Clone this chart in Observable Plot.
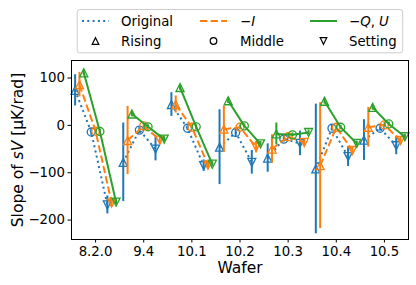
<!DOCTYPE html>
<html><head><meta charset="utf-8">
<script src="https://cdn.jsdelivr.net/npm/d3@7"></script>
<script src="https://cdn.jsdelivr.net/npm/@observablehq/plot@0.6"></script>
<style>
body{margin:0;background:#fff;font-family:"DejaVu Sans",sans-serif;}
svg{display:block}
</style></head><body>
<div id="legend"></div>
<div id="chart"></div>
<script>
// ---- data ----
const wafers = ["8.2.0", "9.4", "10.1", "10.2", "10.3", "10.4", "10.5"];
const seriesNames = ["Original", "−I", "−Q,U"];
const positionNames = ["Rising", "Middle", "Setting"];
const yTicks = [-200, -100, 0, 100];
// values per wafer: [Rising, Middle, Setting]
const originalValues = [[74,-14,-168],[-78,-10,-50],[44,-6,-85],[-46,-15,-78],[-69,-29,-38],[-92,-6,-66],[-31,-6,-43]];
const originalErrors = [[33,7,19],[83,7,25],[25,5,12],[79,10,25],[30,6,26],[137,6,21],[43,6,19]];
const minusIValues = [[86,-12,-164],[-32,-1,-31],[44,-4,-84],[-8,-4,-46],[-50,-24,-36],[-85,-4,-53],[-4,1,-32]];
const minusIErrors = [[26,5,8],[72,5,10],[18,5,6],[49,5,12],[30,5,8],[133,5,8],[42,5,8]];
const minusQUValues = [[111,-13,-162],[24,-3,-29],[80,-3,-82],[52,-1,-39],[-18,-20,-15],[51,-4,-38],[38,3,-24]];
const minusQUErrors = [[6,4,5],[6,4,5],[6,4,5],[6,4,5],[23,4,5],[6,4,5],[6,4,5]];

// ---- styles ----
const colors = ["#1f77b4", "#ff7f0e", "#2ca02c"];
const dashes = ["2,3.3", "7.4,3.2", null];
const posStep = 0.335, seriesStep = 0.09;

const triUp = {draw(c, size){const r=Math.sqrt(size/Math.PI); c.moveTo(0,-r); c.lineTo(r,r); c.lineTo(-r,r); c.closePath();}};
const triDown = {draw(c, size){const r=Math.sqrt(size/Math.PI); c.moveTo(0,r); c.lineTo(r,-r); c.lineTo(-r,-r); c.closePath();}};
const symbols = [triUp, "circle", triDown];

const allValues = [originalValues, minusIValues, minusQUValues];
const allErrors = [originalErrors, minusIErrors, minusQUErrors];
const rows = [];
allValues.forEach((vals, s) => vals.forEach((triple, w) => triple.forEach((v, p) => {
  rows.push({series: s, wafer: w, pos: p, x: w + (p - 1) * posStep + (s - 1) * seriesStep,
             v, lo: v - allErrors[s][w][p], hi: v + allErrors[s][w][p]});
})));

const marks = [
  Plot.axisY(yTicks, {tickSize: 3.5, tickPadding: 3, label: null}),
  Plot.axisX(d3.range(wafers.length), {tickSize: 3.5, tickPadding: 3.5, tickFormat: i => wafers[i], label: null})
];
for (let s = 0; s < 3; s++) {
  const d = rows.filter(r => r.series === s);
  marks.push(Plot.ruleX(d, {x: "x", y1: "lo", y2: "hi", stroke: colors[s], strokeWidth: 2}));
  marks.push(Plot.line(d, {x: "x", y: "v", z: "wafer", stroke: colors[s], strokeWidth: 2,
    strokeDasharray: dashes[s] ?? undefined, strokeLinecap: "butt"}));
  for (let p = 0; p < 3; p++) {
    marks.push(Plot.dot(d.filter(r => r.pos === p), {x: "x", y: "v", r: 4, symbol: symbols[p],
      stroke: colors[s], fill: "none", strokeWidth: 1.33}));
  }
}
marks.push(Plot.frame({stroke: "black", strokeWidth: 1}));
marks.push(Plot.text(["Wafer"], {text: d => d, frameAnchor: "bottom", textAnchor: "middle", dy: 33, fontSize: 15.5}));
marks.push(Plot.text(["Slope of sV [μK/rad]"], {text: d => d, frameAnchor: "left", textAnchor: "middle", dx: -53, rotate: -90, fontSize: 15.5}));

const chart = Plot.plot({
  width: 416, height: 228,
  marginTop: 3, marginBottom: 46, marginLeft: 71, marginRight: 8,
  x: {domain: [-0.5, 6.5]},
  y: {domain: [-241, 137]},
  style: {fontFamily: "DejaVu Sans", fontSize: "13.3px", color: "black", background: "white", overflow: "visible"},
  marks
});
document.getElementById("chart").appendChild(chart);

// italic "sV" in y label
for (const t of chart.querySelectorAll("text")) {
  if (t.textContent === "Slope of sV [μK/rad]") {
    t.textContent = "";
    const parts = [["Slope of ", null], ["sV", "italic"], [" [μK/rad]", null]];
    for (const [txt, st] of parts) {
      const ts = document.createElementNS("http://www.w3.org/2000/svg", "tspan");
      ts.textContent = txt;
      if (st) ts.setAttribute("font-style", st);
      t.appendChild(ts);
    }
  }
}

// ---- legend ----
const lg = d3.select("#legend").append("svg").attr("width", 416).attr("height", 57)
  .attr("font-family", "DejaVu Sans").attr("font-size", 13.3);
lg.append("rect").attr("x", 77.2).attr("y", 9.5).attr("width", 325.5).attr("height", 43.3)
  .attr("rx", 2.5).attr("fill", "white").attr("fill-opacity", 0.8).attr("stroke", "#cccccc");
const colX = [82, 200, 310], textX = [121, 240, 349], rowY = [21, 41];
seriesNames.forEach((name, s) => {
  const ln = lg.append("line").attr("x1", colX[s]).attr("x2", colX[s] + 27).attr("y1", rowY[0]).attr("y2", rowY[0])
    .attr("stroke", colors[s]).attr("stroke-width", 2);
  if (dashes[s]) ln.attr("stroke-dasharray", dashes[s]);
  const t = lg.append("text").attr("x", textX[s]).attr("y", rowY[0]).attr("dy", "0.35em");
  if (s === 0) t.text(name);
  else if (s === 1) { t.append("tspan").text("−"); t.append("tspan").attr("font-style", "italic").text("I"); }
  else { t.append("tspan").text("−"); t.append("tspan").attr("font-style", "italic").text("Q");
         t.append("tspan").text(", "); t.append("tspan").attr("font-style", "italic").text("U"); }
});
positionNames.forEach((name, p) => {
  const sym = p === 1 ? d3.symbolCircle : symbols[p];
  lg.append("path").attr("d", d3.symbol(sym, Math.PI * 3.3 * 3.3)())
    .attr("transform", `translate(${colX[p] + 13.5},${rowY[1]})`)
    .attr("fill", "none").attr("stroke", "black").attr("stroke-width", 1.2);
  lg.append("text").attr("x", textX[p]).attr("y", rowY[1]).attr("dy", "0.35em").text(name);
});
</script>
</body></html>
